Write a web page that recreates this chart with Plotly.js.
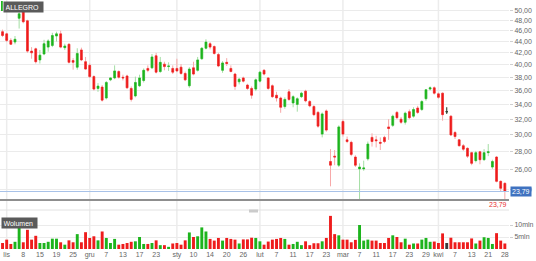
<!DOCTYPE html>
<html><head><meta charset="utf-8">
<script src="https://cdn.plot.ly/plotly-3.0.1.min.js"></script>
<style>html,body{margin:0;padding:0;background:#fff;}#chart{width:536px;height:261px;}</style>
</head><body><div id="chart"></div>
<script>
const ticker = 'ALLEGRO';
const volumeTitle = 'Wolumen';
const dates = ['2021-10-28','2021-10-29','2021-11-02','2021-11-03','2021-11-04','2021-11-05','2021-11-08','2021-11-09','2021-11-10','2021-11-12',
'2021-11-15','2021-11-16','2021-11-17','2021-11-18','2021-11-19','2021-11-22','2021-11-23','2021-11-24','2021-11-25','2021-11-26',
'2021-11-29','2021-11-30','2021-12-01','2021-12-02','2021-12-03','2021-12-06','2021-12-07','2021-12-08','2021-12-09','2021-12-10',
'2021-12-13','2021-12-14','2021-12-15','2021-12-16','2021-12-17','2021-12-20','2021-12-21','2021-12-22','2021-12-23','2021-12-27',
'2021-12-28','2021-12-29','2021-12-30','2022-01-03','2022-01-04','2022-01-05','2022-01-07','2022-01-10','2022-01-11','2022-01-12',
'2022-01-13','2022-01-14','2022-01-17','2022-01-18','2022-01-19','2022-01-20','2022-01-21','2022-01-24','2022-01-25','2022-01-26',
'2022-01-27','2022-01-28','2022-01-31','2022-02-01','2022-02-02','2022-02-03','2022-02-04','2022-02-07','2022-02-08','2022-02-09',
'2022-02-10','2022-02-11','2022-02-14','2022-02-15','2022-02-16','2022-02-17','2022-02-18','2022-02-21','2022-02-22','2022-02-23',
'2022-02-24','2022-02-25','2022-02-28','2022-03-01','2022-03-02','2022-03-03','2022-03-04','2022-03-07','2022-03-08','2022-03-09',
'2022-03-10','2022-03-11','2022-03-14','2022-03-15','2022-03-16','2022-03-17','2022-03-18','2022-03-21','2022-03-22','2022-03-23',
'2022-03-24','2022-03-25','2022-03-28','2022-03-29','2022-03-30','2022-03-31','2022-04-01','2022-04-04','2022-04-05','2022-04-06',
'2022-04-07','2022-04-08','2022-04-11','2022-04-12','2022-04-13','2022-04-14','2022-04-19','2022-04-20','2022-04-21','2022-04-22',
'2022-04-25','2022-04-26','2022-04-28'];
const open = [47.3,45.8,45.4,44.2,43.9,48.4,49.7,47.9,42.3,42.7,
40.8,41.8,43.0,43.3,45.0,45.4,42.9,43.5,40.7,39.6,
42.5,40.5,39.9,38.1,36.3,36.5,34.9,37.6,37.9,38.9,
38.0,38.2,36.3,35.2,36.7,37.5,39.4,39.5,41.5,38.9,
40.1,39.7,39.4,39.4,39.6,38.6,36.7,39.5,39.1,41.0,
42.8,43.6,43.1,41.7,39.1,40.4,39.4,38.5,37.3,37.9,
36.8,36.3,36.2,37.4,39.1,37.9,36.7,35.3,34.9,33.7,
35.8,34.2,34.0,35.1,35.9,34.4,33.7,32.9,30.1,33.1,
26.9,27.5,26.5,31.7,29.4,29.1,27.4,26.1,26.1,27.2,
29.7,29.4,29.1,29.7,31.0,31.2,32.9,32.0,31.6,33.0,
32.4,33.5,33.3,34.8,36.2,36.4,35.5,35.6,33.0,32.4,
30.3,29.4,28.7,28.4,27.9,27.0,28.0,27.1,27.9,26.3,
27.4,24.8,24.6];
const high = [47.6,46.2,45.6,44.6,45.0,50.1,50.5,48.1,43.0,42.9,
42.5,44.3,44.4,45.6,45.8,46.0,43.6,43.7,41.1,42.8,
42.9,41.3,40.2,38.3,37.1,36.8,37.4,38.0,39.9,39.1,
38.4,38.4,36.6,38.1,38.4,39.4,39.9,41.8,42.0,41.3,
40.5,40.4,39.9,41.0,40.1,38.9,39.6,40.5,41.3,43.0,
44.4,43.9,43.3,42.0,40.6,41.1,39.9,38.7,37.9,38.1,
37.0,36.6,37.8,39.0,39.3,38.0,36.9,35.8,35.1,35.0,
36.2,35.3,35.0,35.8,36.1,34.6,33.9,33.1,32.9,33.3,
28.3,28.2,31.2,32.0,29.8,29.3,27.6,26.7,27.0,29.2,
30.2,29.9,29.7,29.9,32.0,32.6,33.1,32.3,33.0,33.3,
33.6,33.8,34.6,36.2,36.6,36.6,35.7,35.7,33.6,32.5,
30.5,29.5,28.9,28.5,28.0,28.1,28.1,28.3,28.9,27.1,
27.5,24.9,24.7];
const low = [46.0,44.8,43.9,43.4,43.5,46.4,47.4,42.0,41.0,40.2,
40.2,41.6,42.2,43.0,44.0,42.8,42.5,40.2,39.2,39.2,
40.6,39.2,37.9,36.0,35.8,34.4,34.7,37.4,37.7,37.8,
37.5,36.2,34.4,35.0,36.5,37.2,38.8,39.3,38.6,38.7,
39.1,39.0,38.5,38.8,38.4,37.4,36.4,38.3,38.9,40.8,
42.6,42.6,41.7,39.6,38.7,39.8,38.8,36.1,36.9,37.2,
36.1,34.8,35.9,37.2,38.3,36.1,34.9,34.4,32.85,33.4,
34.5,33.6,33.0,34.9,34.3,33.6,32.4,30.9,29.7,30.4,
24.3,26.5,26.3,29.8,29.0,27.5,26.3,23.0,25.9,27.0,
28.6,28.5,28.2,29.0,29.4,31.0,32.0,31.4,31.3,32.0,
32.2,32.7,33.1,34.5,36.0,35.4,34.8,31.8,32.7,29.9,
29.5,28.6,28.1,27.3,26.5,26.8,26.6,27.0,27.5,26.1,
24.7,23.8,23.0];
const close = [46.4,45.1,44.2,43.5,44.4,49.3,47.7,42.3,42.0,40.5,
41.6,43.6,44.1,45.1,45.4,43.0,43.2,40.4,40.4,41.9,
40.8,39.3,38.1,36.2,36.65,34.6,37.2,37.9,39.0,38.0,
37.9,36.4,34.7,37.2,37.9,39.1,39.1,41.3,38.8,40.4,
39.7,39.8,38.8,39.0,38.6,37.6,39.3,38.5,40.8,42.8,
43.9,43.0,41.9,39.8,40.3,40.2,38.9,36.6,37.7,37.4,
36.3,35.3,37.6,38.8,38.5,36.3,35.1,34.9,33.6,34.7,
34.7,35.1,34.8,35.6,34.5,33.8,32.6,31.1,32.7,30.6,
26.5,27.4,31.0,30.1,29.2,27.7,26.5,26.3,26.2,28.9,
29.2,29.3,29.0,29.2,30.8,32.4,32.2,31.6,32.8,32.2,
33.3,32.9,34.4,36.1,36.4,35.6,35.0,32.6,33.0,30.0,
29.8,28.7,28.3,27.5,26.7,27.9,27.1,27.9,28.0,26.9,
24.8,24.1,23.79];
const volumeMln = [3.0,2.5,3.9,2.1,3.0,9.7,2.8,8.0,3.9,5.5,
2.5,2.5,3.0,4.3,4.3,2.8,1.8,3.6,2.8,6.2,
2.8,7.0,4.6,5.3,3.6,7.3,4.6,2.5,4.2,1.8,
2.1,2.5,3.0,3.2,5.0,2.1,2.1,2.5,3.6,1.6,
1.6,0.9,2.3,2.5,1.8,3.6,6.9,5.0,5.3,9.0,
7.3,4.2,3.5,4.6,3.5,4.6,4.2,3.9,2.3,4.0,
4.0,4.7,4.6,3.2,1.8,3.1,3.9,4.2,4.6,4.2,
1.8,2.1,3.0,1.6,3.2,1.6,2.4,2.4,3.2,4.6,
13.8,6.2,5.7,3.9,3.9,2.8,3.8,10.0,3.5,3.9,
3.5,3.5,2.5,2.5,4.6,5.7,5.0,2.8,4.3,1.8,
2.3,2.3,3.9,4.6,3.0,3.1,2.5,6.5,2.5,4.7,
2.8,2.8,2.8,2.8,4.4,2.3,3.5,4.9,4.6,2.1,
6.6,3.5,2.3];
const tickDates = ['2021-11-02','2021-11-08','2021-11-15','2021-11-19','2021-11-25','2021-12-01','2021-12-07','2021-12-13','2021-12-17','2021-12-23',
'2022-01-03','2022-01-10','2022-01-14','2022-01-20','2022-01-26','2022-02-01','2022-02-07','2022-02-11','2022-02-17','2022-02-23',
'2022-03-01','2022-03-07','2022-03-11','2022-03-17','2022-03-23','2022-03-29','2022-04-01','2022-04-07','2022-04-13','2022-04-21','2022-04-28'];
const tickLabels = ['lis','8','15','19','25','gru','7','13','17','23','sty','10','14','20','26','lut','7','11','17','23','mar','7','11','17','23','29','kwi','7','13','21','28'];
const priceTicks = [24,26,28,30,32,34,36,38,40,42,44,46,48,50];
const volTicks = [5,10];
const volTickLabels = ['5mln','10mln'];

// ---- layout geometry (pixels) ----
const W = 536, H = 261, mL = 0, mR = 27, mT = 0, mB = 12;
const plotH = H - mT - mB, plotW = W - mL - mR;
const fy = px => 1 - (px - mT) / plotH;
const fx = px => (px - mL) / plotW;

const UP = '#1db41d', DN = '#ee1c1c', UPL = '#a3dea3', DNL = '#f7a8a8', FLAT = '#3a3a3a';
const fmt = v => v.toFixed(2).replace('.', ',');
const last = close[close.length - 1];

const bodyHi = open.map((o, i) => Math.max(o, close[i]));
const bodyLo = open.map((o, i) => Math.min(o, close[i]));
const flatIdx = open.map((o, i) => i).filter(i => open[i] === close[i]);
const pick = (arr) => flatIdx.map(i => arr[i]);

const traces = [
  {type:'candlestick', x:dates, open:open, high:high, low:low, close:close, xaxis:'x', yaxis:'y',
   increasing:{line:{color:UPL, width:1}, fillcolor:UPL},
   decreasing:{line:{color:DNL, width:1}, fillcolor:DNL},
   whiskerwidth:0, hoverinfo:'skip', showlegend:false},
  {type:'candlestick', x:dates, open:open, high:bodyHi, low:bodyLo, close:close, xaxis:'x', yaxis:'y',
   increasing:{line:{color:UP, width:0.5}, fillcolor:UP},
   decreasing:{line:{color:DN, width:0.5}, fillcolor:DN},
   whiskerwidth:0, hoverinfo:'skip', showlegend:false},
  {type:'candlestick', x:pick(dates), open:pick(open), high:pick(high), low:pick(low), close:pick(close), xaxis:'x', yaxis:'y',
   increasing:{line:{color:FLAT, width:1}, fillcolor:FLAT},
   decreasing:{line:{color:FLAT, width:1}, fillcolor:FLAT},
   whiskerwidth:0, hoverinfo:'skip', showlegend:false},
  {type:'bar', x:dates, y:volumeMln, xaxis:'x2', yaxis:'y2',
   marker:{color: close.map((c, i) => c > open[i] ? UP : (c < open[i] ? DN : FLAT)), line:{width:0}},
   hoverinfo:'skip', showlegend:false}
];

const monthStarts = dates.filter((d, i) => i > 0 && d.slice(0, 7) !== dates[i - 1].slice(0, 7));
const shapes = monthStarts.map(d => ({type:'line', xref:'x', yref:'paper', x0:d, x1:d, y0:0, y1:1,
  line:{color:'#ececec', width:1.5}, layer:'below'}));
shapes.push({type:'line', xref:'paper', yref:'y', x0:0, x1:1, y0:last, y1:last, line:{color:'#a8c2e8', width:1}});
shapes.push({type:'line', xref:'paper', yref:'paper', x0:0, x1:1, y0:fy(210), y1:fy(210), line:{color:'#e2e2e2', width:1}});
shapes.push({type:'rect', xref:'paper', yref:'paper', x0:fx(249), x1:fx(258), y0:fy(212.5), y1:fy(209.5), fillcolor:'#cbcbcb', line:{width:0}});
shapes.push({type:'rect', xref:'paper', yref:'paper', x0:fx(1), x1:fx(2.8), y0:fy(11), y1:fy(1), fillcolor:'#22b422', line:{width:0}});

const tf = {family:'"Liberation Sans", Arial, sans-serif', size:7, color:'#666'};
const annotations = [
  {xref:'paper', yref:'paper', x:fx(2.8), y:fy(1), xanchor:'left', yanchor:'top', text:ticker, showarrow:false,
   font:{family:tf.family, size:7, color:'#fff'}, bgcolor:'#5a5a5a', borderpad:1.5, width:36, align:'left'},
  {xref:'paper', yref:'paper', x:fx(1), y:fy(216.5), xanchor:'left', yanchor:'top', text:volumeTitle, showarrow:false,
   font:{family:tf.family, size:7, color:'#fff'}, bgcolor:'#5a5a5a', borderpad:1.5, width:32, align:'left'},
  {xref:'paper', yref:'y', x:1, xshift:1, y:Math.log10(last), xanchor:'left', yanchor:'middle', text:fmt(last), showarrow:false,
   font:{family:tf.family, size:7, color:'#fff'}, bgcolor:'#3f72c0', borderpad:1},
  {xref:'paper', yref:'paper', x:1, y:fy(204.5), xanchor:'right', yanchor:'middle', text:fmt(last), showarrow:false,
   font:{family:tf.family, size:7, color:'#e83030'}}
];

const layout = {
  width:W, height:H, margin:{l:mL, r:mR, t:mT, b:mB, pad:0},
  paper_bgcolor:'#fff', plot_bgcolor:'rgba(0,0,0,0)',
  font:tf, separators:', ', showlegend:false,
  boxgap:0.38, bargap:0.3,
  xaxis:{type:'category', categoryorder:'array', categoryarray:dates, domain:[0,1], anchor:'y',
    range:[0.39, 123.0], rangeslider:{visible:false}, showticklabels:false, ticks:'', showgrid:false,
    showline:true, linecolor:'#8e8e8e', linewidth:2, zeroline:false, fixedrange:true},
  yaxis:{type:'log', domain:[fy(199), 1], anchor:'x', side:'right',
    range:[Math.log10(23.07), Math.log10(52.16)], tickvals:priceTicks, tickformat:'.2f',
    ticks:'outside', ticklen:3, tickcolor:'#cfcfcf', gridcolor:'#ebebeb', gridwidth:1,
    showline:false, zeroline:false, tickfont:tf, fixedrange:true},
  xaxis2:{type:'category', categoryorder:'array', categoryarray:dates, domain:[0,1], anchor:'y2',
    range:[0.39, 123.0], tickvals:tickDates, ticktext:tickLabels, ticks:'', showgrid:false,
    showline:false, zeroline:false, tickfont:tf, fixedrange:true},
  yaxis2:{domain:[0, fy(213)], anchor:'x2', side:'right', range:[0, 15],
    tickvals:volTicks, ticktext:volTickLabels, ticks:'outside', ticklen:3, tickcolor:'#cfcfcf',
    gridcolor:'#ebebeb', showline:false, zeroline:false, tickfont:tf, fixedrange:true},
  shapes:shapes, annotations:annotations
};

Plotly.newPlot('chart', traces, layout, {staticPlot:true, displayModeBar:false});
</script>
</body></html>
